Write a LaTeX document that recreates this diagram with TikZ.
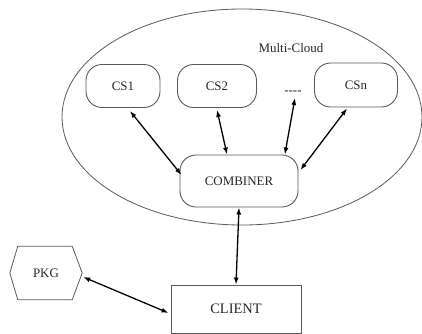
\documentclass[tikz,border=0pt]{standalone}
\usepackage{fontspec}
\setmainfont{Liberation Serif}
\usetikzlibrary{arrows.meta}
\begin{document}
\begin{tikzpicture}[x=1bp,y=-1bp,
  every node/.style={font=\fontsize{13}{15}\selectfont, text=black!85},
  frame/.style={draw=black!65, line width=0.9bp},
  cloudbox/.style={frame, rounded corners=16bp, inner sep=0pt},
  link/.style={line width=1.3bp, black, {Latex[length=7bp,width=5bp]}-{Latex[length=7bp,width=5bp]}}]
\useasboundingbox (0,0) rectangle (422,334);
% the multi-cloud boundary
\draw[frame, line width=0.8bp] (242,117) ellipse [x radius=180, y radius=108];
\node (mc) at (291,48) {Multi-Cloud};
% cloud servers
\node[cloudbox, minimum width=74bp, minimum height=43bp] (cs1) at (123,86) {CS1};
\node[cloudbox, minimum width=79bp, minimum height=43bp] (cs2) at (217,86) {CS2};
\node[cloudbox, minimum width=83bp, minimum height=44bp] (csn) at (356,85) {CSn};
\node[inner sep=0pt] (dots) at (293,93) {-{}-{}-{}-};
\node[cloudbox, minimum width=118bp, minimum height=52bp] (comb) at (239,181) {COMBINER};
% client and package
\node[frame, minimum width=130bp, minimum height=48bp, inner sep=0pt,
      font=\fontsize{14.5}{16}\selectfont] (client) at (236,309) {CLIENT};
\node[minimum width=72bp, minimum height=53bp, inner sep=0pt] (pkg) at (46,273) {PKG};
\draw[frame, line width=0.8bp] (pkg.west) -- ([xshift=8]pkg.north west) -- ([xshift=-10]pkg.north east)
  -- (pkg.east) -- ([xshift=-10]pkg.south east) -- ([xshift=8]pkg.south west) -- cycle;
% connectors
\draw[link] ([xshift=7,yshift=-3]cs1.south) -- ([xshift=2,yshift=6]comb.west);
\draw[link] ([yshift=-2]cs2.south) -- ([xshift=-12]comb.north);
\draw[link] ([xshift=2,yshift=-3]dots.south) -- ([xshift=46]comb.north);
\draw[link] ([xshift=-9,yshift=-1]csn.south) -- ([xshift=2,yshift=11]comb.east);
\draw[link] (comb.south) -- (client.north);
\draw[link] ([xshift=1,yshift=-4]pkg.east) -- ([xshift=-2,yshift=-4]client.west);
\end{tikzpicture}
\end{document}
